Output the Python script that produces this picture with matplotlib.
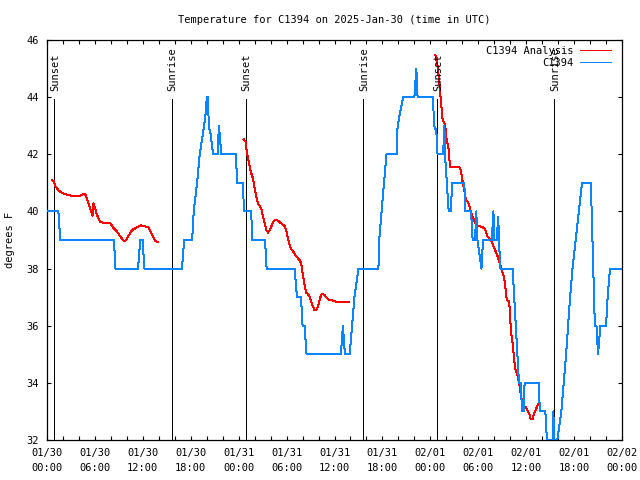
import matplotlib
matplotlib.use("Agg")
import matplotlib.pyplot as plt
from matplotlib.ticker import MultipleLocator

# ---------------- data ----------------
title = "Temperature for C1394 on 2025-Jan-30 (time in UTC)"
ylabel = "degrees F"

xtick_hours = [0, 6, 12, 18, 24, 30, 36, 42, 48, 54, 60, 66, 72]
xtick_labels = ["01/30\n00:00", "01/30\n06:00", "01/30\n12:00", "01/30\n18:00",
                "01/31\n00:00", "01/31\n06:00", "01/31\n12:00", "01/31\n18:00",
                "02/01\n00:00", "02/01\n06:00", "02/01\n12:00", "02/01\n18:00",
                "02/02\n00:00"]
yticks = [32, 34, 36, 38, 40, 42, 44, 46]

sun_hours = [0.875, 15.625, 24.875, 39.625, 48.875, 63.5]
sun_names = ["Sunset", "Sunrise", "Sunset", "Sunrise", "Sunset", "Sunrise"]

# observed station temperature (hours since 01/30 00:00 UTC)
obs_hours = [0, 1.42, 1.67, 8.375, 8.58, 11.4, 11.67, 11.96, 12.2, 16.9, 17.17, 18.17,
             18.375, 18.79, 19.125, 19.4, 19.67, 19.9, 20.0, 20.08, 20.17, 20.25, 20.5,
             20.79, 21.42, 21.5, 21.625, 21.83, 23.625, 23.83, 24.58, 24.625, 25.58,
             25.67, 27.3, 27.5, 31.0, 31.3, 31.8, 32.0, 32.25, 32.5, 36.8, 37.05, 37.3,
             37.9, 38.2, 38.5, 39.0, 41.5, 41.6, 41.9, 42.2, 42.5, 43.8, 43.9, 44.6,
             46.0, 46.25, 46.4, 48.3, 48.5, 48.75, 48.9, 49.6, 49.75, 49.9, 50.3, 50.6,
             50.7, 52.25, 52.4, 53.1, 53.3, 53.6, 53.75, 53.9, 54.4, 54.6, 55.7, 55.9,
             56.0, 56.3, 56.5, 56.6, 56.75, 57.0, 58.3, 58.5, 58.7, 58.9, 59.1, 59.3,
             59.5, 59.7, 59.8, 61.6, 61.7, 62.4, 62.6, 63.3, 63.4, 63.5, 63.9, 64.4,
             64.7, 65.0, 65.25, 65.5, 65.8, 66.2, 66.6, 67.0, 68.1, 68.4, 68.6, 68.8,
             69.0, 69.3, 70.0, 70.2, 70.5, 72.0]
obs_temp = [40, 40, 39, 39, 38, 38, 39, 39, 38, 38, 39, 39,
            40, 41, 42, 42.5, 43, 43.5, 44, 43.5, 44, 43, 42.7,
            42, 42, 43, 42.7, 42, 42, 41, 41, 40, 40,
            39, 39, 38, 38, 37, 37, 36, 36, 35, 35, 36, 35,
            35, 36, 37, 38, 38, 39, 40, 41, 42, 42, 43, 44,
            44, 45, 44, 44, 43, 42.8, 42, 42, 43, 41.7, 40, 40,
            41, 41, 40, 40, 39, 39, 40, 39, 38, 39, 39, 40,
            39, 39, 39.8, 39, 38, 38, 38, 37, 36, 35, 34, 34,
            33, 33, 34, 34, 33, 33, 32, 32, 33, 32, 32, 33,
            34, 35, 36, 37, 38, 39, 40, 41, 41, 38, 36, 36,
            35, 36, 36, 37, 38, 38]

# analysis temperature, three forecast segments
ana1_hours = [0.67, 0.85, 1.08, 1.5, 1.92, 2.54, 3.375, 4.0, 4.625, 4.83, 5.04, 5.46,
              5.71, 5.79, 5.96, 6.21, 6.5, 6.71, 7.96, 8.375, 8.79, 9.21, 9.625, 9.83,
              10.25, 10.67, 11.71, 12.125, 12.75, 13.17, 13.58, 13.92]
ana1_temp = [41.09, 41.05, 40.87, 40.72, 40.64, 40.58, 40.53, 40.54, 40.61, 40.58, 40.4, 40.05,
             39.85, 40.28, 40.17, 39.93, 39.7, 39.62, 39.58, 39.4, 39.29, 39.11, 38.96, 38.97,
             39.17, 39.35, 39.51, 39.5, 39.43, 39.17, 38.96, 38.93]

ana2_hours = [24.625, 24.875, 24.96, 25.17, 25.375, 25.58, 25.79, 26.0, 26.21, 26.42, 26.625,
              26.83, 27.04, 27.25, 27.46, 27.67, 27.875, 28.08, 28.29, 28.5, 28.92, 29.33,
              29.75, 29.96, 30.17, 30.375, 30.58, 30.79, 31.0, 31.42, 31.625, 31.83, 32.04,
              32.25, 32.46, 32.67, 32.875, 33.08, 33.29, 33.5, 33.71, 33.92, 34.125, 34.33,
              34.54, 34.75, 35.04, 35.375, 35.79, 36.2, 36.625, 37.79]
ana2_temp = [42.53, 42.44, 42.21, 41.86, 41.57, 41.33, 41.16, 40.81, 40.52, 40.28, 40.19,
             40.11, 39.82, 39.58, 39.35, 39.26, 39.35, 39.47, 39.61, 39.69, 39.68, 39.58,
             39.49, 39.35, 39.06, 38.83, 38.67, 38.62, 38.51, 38.36, 38.30, 38.18, 37.78,
             37.43, 37.16, 37.11, 37.02, 36.84, 36.67, 36.55, 36.54, 36.67, 36.9, 37.08,
             37.11, 37.08, 36.96, 36.9, 36.88, 36.84, 36.82, 36.82]

ana3_hours = [48.58, 48.75, 48.92, 49.125, 49.33, 49.54, 49.75, 49.875, 50.04, 50.25, 50.375,
              50.5, 51.625, 51.83, 51.96, 52.25, 52.46, 52.67, 52.875, 53.08, 53.375, 53.625,
              53.92, 54.33, 54.75, 54.96, 55.17, 55.58, 56.0, 56.4, 56.83, 57.25, 57.58,
              57.875, 58.0, 58.08, 58.29, 58.5, 58.625, 58.83, 59.125, 59.25, 59.54, 59.96,
              60.375, 60.58, 60.79, 61.0, 61.42, 61.625]
ana3_temp = [45.47, 45.45, 45.07, 44.5, 43.84, 43.2, 43.1, 42.97, 42.5, 42.27, 41.86,
             41.55, 41.55, 41.45, 41.16, 40.75, 40.4, 40.35, 40.22, 39.99, 39.76, 39.58,
             39.5, 39.47, 39.42, 39.29, 39.12, 39.0, 38.72, 38.45, 38.07, 37.66, 36.9,
             36.85, 36.3, 35.85, 35.4, 34.8, 34.5, 34.35, 34.0, 33.75, 33.2, 33.15,
             32.93, 32.72, 32.72, 32.93, 33.2, 33.3]

# ---------------- plot ----------------
FONT = "DejaVu Sans Mono"
FS = 7.5
plt.rcParams["font.family"] = FONT
plt.rcParams["font.size"] = FS

fig = plt.figure(figsize=(6.4, 4.8), dpi=100)
ax = fig.add_axes([47 / 640, 40 / 480, (622 - 47) / 640, 400 / 480])

ax.vlines(sun_hours, 32, 43.95, colors="black", linewidth=0.72, zorder=1,
          antialiased=False)
for h, name in zip(sun_hours, sun_names):
    ax.text(h + 0.1, 44.2, name, rotation=90, ha="center", va="bottom",
            fontsize=FS, zorder=4)

red_line = None
for hh, tt in [(ana1_hours, ana1_temp), (ana2_hours, ana2_temp), (ana3_hours, ana3_temp)]:
    red_line, = ax.plot(hh, tt, color="#ff0000", linewidth=0.72, zorder=2,
                        antialiased=False)
blue_line, = ax.plot(obs_hours, obs_temp, color="#0a84ff", linewidth=0.72, zorder=3,
                     antialiased=False)

ax.set_xlim(0, 72)
ax.set_ylim(32, 46)
ax.set_xticks(xtick_hours)
ax.set_xticklabels(xtick_labels, linespacing=1.6)
ax.xaxis.set_minor_locator(MultipleLocator(2))
ax.set_yticks(yticks)
ax.tick_params(axis="both", which="both", direction="in", top=True, right=True,
               width=0.8, labelsize=FS)
ax.tick_params(axis="both", which="major", length=3.2)
ax.tick_params(axis="x", which="minor", length=2.6)
ax.tick_params(axis="x", which="major", pad=6)
ax.tick_params(axis="y", which="major", pad=6)
for s in ax.spines.values():
    s.set_linewidth(0.9)

ax.set_ylabel(ylabel, fontsize=FS, labelpad=8)
fig.text(334.5 / 640, 1 - 20 / 480, title, ha="center", va="center", fontsize=FS)

leg = ax.legend([red_line, blue_line], ["C1394 Analysis", "C1394"],
                loc="upper right", bbox_to_anchor=(611 / 640, 1 - 46 / 480),
                bbox_transform=fig.transFigure, frameon=False, markerfirst=False,
                borderpad=0, borderaxespad=0, handlelength=3.0, handletextpad=0.6,
                labelspacing=0.2, fontsize=FS)

fig.savefig("out.png", dpi=100)
